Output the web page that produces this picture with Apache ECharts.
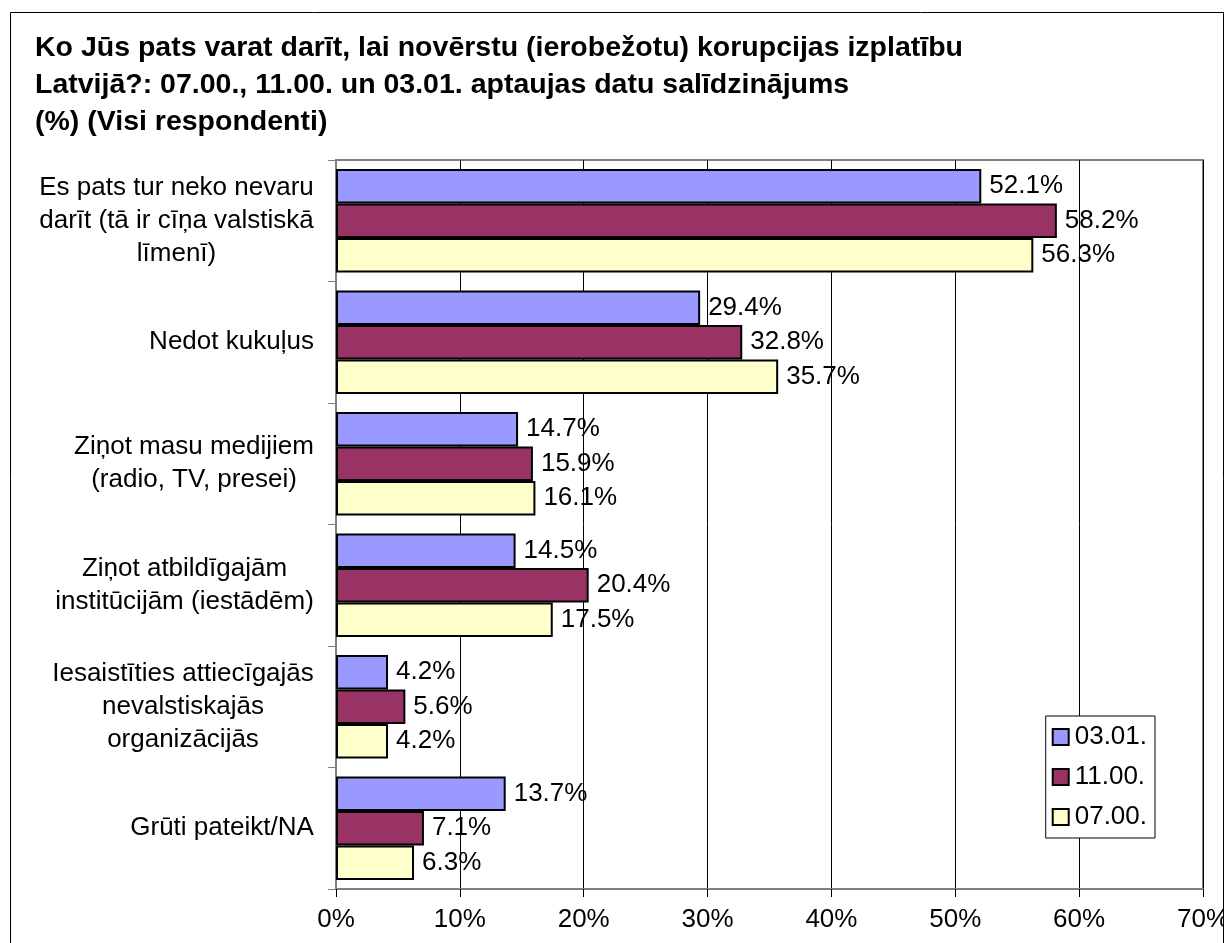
<!DOCTYPE html>
<html>
<head>
<meta charset="utf-8">
<script src="https://cdn.jsdelivr.net/npm/echarts@6/dist/echarts.min.js"></script>
<style>
    html, body { margin: 0; padding: 0; background: #fff; }
    #myChart { width: 1224px; height: 943px; }
</style>
</head>
<body>
<div id="myChart"></div>
<script>
// kategorijas (augšā -> lejā)
var categories = [
    'Es pats tur neko nevaru\ndarīt (tā ir cīņa valstiskā\nlīmenī)',
    'Nedot kukuļus',
    'Ziņot masu medijiem\n(radio, TV, presei)',
    'Ziņot atbildīgajām\ninstitūcijām (iestādēm)',
    'Iesaistīties attiecīgajās\nnevalstiskajās\norganizācijās',
    'Grūti pateikt/NA'
]
var seriesNames = ['03.01.', '11.00.', '07.00.']
var data0301 = [52.1, 29.4, 14.7, 14.5, 4.2, 13.7]
var data1100 = [58.2, 32.8, 15.9, 20.4, 5.6, 7.1]
var data0700 = [56.3, 35.7, 16.1, 17.5, 4.2, 6.3]
var xTicks = [0, 10, 20, 30, 40, 50, 60, 70]

var font = 'Liberation Sans, Arial, sans-serif'
var colors = ['#9999FF', '#993366', '#FFFFCC']
var fs = 26

// katras kategorijas platums, lai rindas centrētu bloka iekšā
var ctx = document.createElement('canvas').getContext('2d')
ctx.font = fs + 'px ' + font
var rich = {}
categories.forEach(function (c, i) {
    var w = 0
    c.split('\n').forEach(function (l) {
        w = Math.max(w, ctx.measureText(l).width)
    })
    rich['r' + i] = { width: Math.ceil(w), align: 'center', fontSize: fs, fontFamily: font, color: '#000', lineHeight: 33 }
})

function barSeries(name, values, color) {
    return {
        name: name,
        type: 'bar',
        data: values,
        barGap: '0%',
        barCategoryGap: '15%',
        itemStyle: { color: color, borderColor: '#000', borderWidth: 2 },
        label: {
            show: true,
            position: 'right',
            distance: 8,
            color: '#000',
            fontSize: fs,
            fontFamily: font,
            formatter: function (p) { return p.value.toFixed(1) + '%' }
        }
    }
}

var myChart = echarts.init(document.getElementById('myChart'))
var option = {
    animation: false,
    textStyle: { fontFamily: font },
    title: {
        text: 'Ko Jūs pats varat darīt, lai novērstu (ierobežotu) korupcijas izplatību\nLatvijā?: 07.00., 11.00. un 03.01. aptaujas datu salīdzinājums\n(%) (Visi respondenti)',
        left: 35,
        top: 30,
        padding: 0,
        textStyle: { fontSize: 28.5, fontWeight: 'bold', color: '#000', lineHeight: 37, fontFamily: font }
    },
    legend: {
        orient: 'vertical',
        right: 69,
        top: 716,
        data: seriesNames,
        itemWidth: 16,
        itemHeight: 16,
        itemGap: 14,
        padding: [8, 8, 8, 6],
        borderColor: '#000',
        borderWidth: 1,
        backgroundColor: '#fff',
        icon: 'rect',
        textStyle: { fontSize: fs, color: '#000', fontFamily: font, padding: [0, 0, 0, 1] }
    },
    grid: {
        left: 336,
        right: 21,
        top: 160,
        bottom: 54,
        show: true,
        borderColor: '#808080',
        borderWidth: 2,
        containLabel: false,
        outerBoundsMode: 'none'
    },
    xAxis: {
        type: 'value',
        min: xTicks[0],
        max: xTicks[xTicks.length - 1],
        interval: 10,
        axisLine: { show: true, lineStyle: { color: '#808080', width: 2 } },
        axisTick: { show: true, length: 8, lineStyle: { color: '#000' } },
        splitLine: { show: true, lineStyle: { color: '#000', width: 1 } },
        axisLabel: { margin: 18, fontSize: fs, color: '#000', fontFamily: font, formatter: '{value}%', hideOverlap: false }
    },
    yAxis: {
        type: 'category',
        inverse: true,
        data: categories,
        axisLine: { show: true, lineStyle: { color: '#808080', width: 2 } },
        axisTick: { show: true, length: 8, lineStyle: { color: '#808080' } },
        axisLabel: {
            margin: 22,
            align: 'right',
            formatter: function (v, i) {
                return v.split('\n').map(function (l) { return '{r' + i + '|' + l + '}' }).join('\n')
            },
            rich: rich
        }
    },
    series: [
        barSeries(seriesNames[0], data0301, colors[0]),
        barSeries(seriesNames[1], data1100, colors[1]),
        barSeries(seriesNames[2], data0700, colors[2])
    ],
    graphic: [{
        type: 'rect',
        left: 8,
        top: 10,
        shape: { width: 1213, height: 960 },
        style: { fill: 'none', stroke: '#000', lineWidth: 1 },
        silent: true,
        z: 100
    }]
}
myChart.setOption(option)
</script>
</body>
</html>
